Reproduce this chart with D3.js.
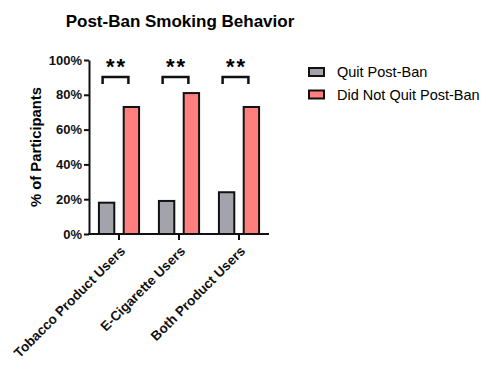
<!DOCTYPE html>
<html><head><meta charset="utf-8">
<script src="https://cdn.jsdelivr.net/npm/d3@7"></script>
<style>body{margin:0;background:#fff}svg{display:block}text{font-family:"Liberation Sans",Arial,sans-serif}</style>
</head><body>
<svg id="c" width="494" height="370"></svg>
<script>
const categories = ["Tobacco Product Users", "E-Cigarette Users", "Both Product Users"];
const seriesNames = ["Quit Post-Ban", "Did Not Quit Post-Ban"];
const quitValues = [18, 19, 24];
const notQuitValues = [73, 81, 73];
const yTicks = [0, 20, 40, 60, 80, 100];
const sigLabels = ["**", "**", "**"];
const colors = ["#a3a3ab", "#ff7f7f"];

const svg = d3.select("#c");
const x = d3.scaleBand().domain(categories).range([89, 269]).paddingInner(0).paddingOuter(0);
const y = d3.scaleLinear().domain([0, 100]).range([234, 60]);
const sub = d3.scaleBand().domain(seriesNames).range([0, x.bandwidth()]).paddingInner(0.38).paddingOuter(0.4);

// title
svg.append("text").attr("x", 180).attr("y", 27).attr("text-anchor", "middle")
  .attr("font-size", 17).attr("font-weight", "bold").text("Post-Ban Smoking Behavior");

// bars
const data = [quitValues, notQuitValues];
seriesNames.forEach((s, si) => {
  svg.append("g").selectAll("rect").data(categories).join("rect")
    .attr("x", c => x(c) + sub(s))
    .attr("y", (c, i) => y(data[si][i]))
    .attr("width", sub.bandwidth())
    .attr("height", (c, i) => y(0) - y(data[si][i]))
    .attr("fill", colors[si]).attr("stroke", "#111").attr("stroke-width", 2);
});

// y axis
const ya = svg.append("g").attr("transform", "translate(89,0)")
  .call(d3.axisLeft(y).tickValues(yTicks).tickFormat(d => d + "%").tickSize(5).tickSizeOuter(0));
ya.select(".domain").attr("stroke", "#111").attr("stroke-width", 2);
ya.selectAll(".tick line").attr("stroke", "#111").attr("stroke-width", 2);
ya.selectAll(".tick text").attr("font-size", 13).attr("font-weight", "bold").attr("fill", "#111").attr("x", -7)
  .style("font-family", '"Liberation Sans",Arial,sans-serif');

// x axis
const xa = svg.append("g").attr("transform", "translate(0,234)")
  .call(d3.axisBottom(x).tickSize(6).tickSizeOuter(0));
xa.select(".domain").attr("stroke", "#111").attr("stroke-width", 2).attr("d", "M88,0H269");
xa.selectAll(".tick line").attr("stroke", "#111").attr("stroke-width", 2);
xa.selectAll(".tick text").attr("font-size", 13.5).attr("font-weight", "bold").attr("fill", "#111")
  .style("font-family", '"Liberation Sans",Arial,sans-serif')
  .attr("text-anchor", "end").attr("dy", 0).attr("y", 0)
  .attr("transform", "translate(7,18) rotate(-45)");

// y label
svg.append("text").attr("transform", "translate(41,147) rotate(-90)").attr("text-anchor", "middle")
  .attr("font-size", 14.8).attr("font-weight", "bold").text("% of Participants");

// significance brackets
categories.forEach((c, i) => {
  const x1 = x(c) + sub(seriesNames[0]) + sub.bandwidth() / 2 - 4;
  const x2 = x(c) + sub(seriesNames[1]) + sub.bandwidth() / 2 - 3;
  const yt = 77, yb = 84;
  svg.append("path").attr("d", `M${x1},${yb}V${yt}H${x2}V${yb}`)
    .attr("fill", "none").attr("stroke", "#111").attr("stroke-width", 2.5);
  svg.append("text").attr("x", (x1 + x2) / 2 + 1).attr("y", 74).attr("text-anchor", "middle")
    .attr("font-size", 22).attr("font-weight", "bold").attr("letter-spacing", 2).text(sigLabels[i]);
});

// legend
const lg = svg.append("g");
seriesNames.forEach((s, i) => {
  const yy = 72 + i * 22.5;
  lg.append("rect").attr("x", 309).attr("y", yy - 4).attr("width", 15).attr("height", 8)
    .attr("fill", colors[i]).attr("stroke", "#111").attr("stroke-width", 2);
  lg.append("text").attr("x", 337).attr("y", yy + 5).attr("font-size", 14.5).text(s);
});
</script>
</body></html>
